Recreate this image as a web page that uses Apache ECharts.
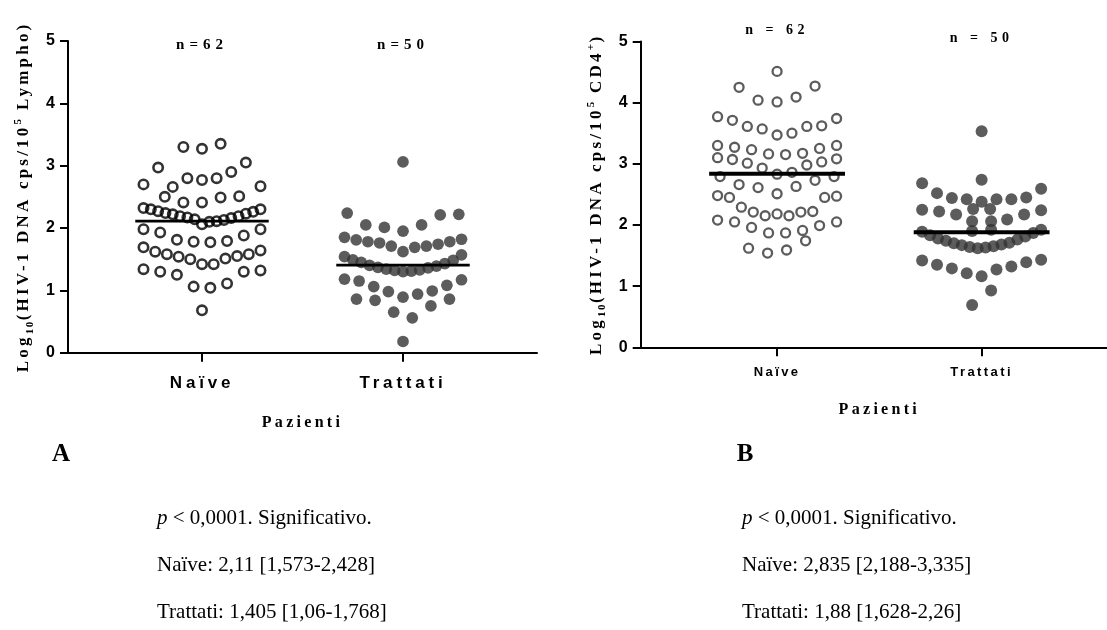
<!DOCTYPE html>
<html>
<head>
<meta charset="utf-8">
<script src="https://cdn.jsdelivr.net/npm/echarts@6/dist/echarts.min.js"></script>
<style>
  html, body { margin: 0; padding: 0; background: #ffffff; }
  #chart { width: 1107px; height: 630px; }
</style>
</head>
<body>
<div id="chart"></div>
<script>
// ---- data -----------------------------------------------------------------
const groupNames = ['Naïve', 'Trattati'];
const yTicks = [0, 1, 2, 3, 4, 5];

// Panel A: log10 HIV-1 DNA copies / 10^5 lymphocytes.
// Each inner array is one band of the dot plot, values listed left to right.
const lymphoNaive = [
  [0.68],
  [1.34, 1.30, 1.25, 1.06, 1.04, 1.11, 1.30, 1.32],
  [1.69, 1.62, 1.58, 1.54, 1.50, 1.42, 1.42, 1.51, 1.55, 1.58, 1.64],
  [1.98, 1.93, 1.81, 1.78, 1.77, 1.79, 1.88, 1.98],
  [2.32, 2.30, 2.27, 2.24, 2.22, 2.19, 2.17, 2.14, 2.06, 2.10, 2.11, 2.13, 2.16, 2.19, 2.23, 2.26, 2.30],
  [2.50, 2.41, 2.41, 2.49, 2.51],
  [2.70, 2.97, 2.66, 2.80, 2.77, 2.80, 2.90, 3.05, 2.67],
  [3.30, 3.27, 3.35]
];
const lymphoTreated = [
  [0.18],
  [0.86, 0.84, 0.65, 0.56, 0.75, 0.86],
  [1.18, 1.15, 1.06, 0.98, 0.89, 0.94, 0.99, 1.08, 1.17],
  [1.54, 1.49, 1.45, 1.40, 1.37, 1.34, 1.32, 1.30, 1.31, 1.33, 1.36, 1.39, 1.43, 1.48, 1.57],
  [1.85, 1.81, 1.78, 1.76, 1.71, 1.62, 1.69, 1.71, 1.74, 1.78, 1.82],
  [2.24, 2.05, 2.01, 1.95, 2.05, 2.21, 2.22],
  [3.06]
];
const lymphoMedians = [2.11, 1.405];

// Panel B: log10 HIV-1 DNA copies / 10^5 CD4+ cells.
const cd4Naive = [
  [1.62, 1.54, 1.59, 1.74],
  [2.08, 2.05, 1.96, 1.87, 1.87, 1.91, 1.99, 2.05],
  [2.48, 2.45, 2.29, 2.21, 2.15, 2.18, 2.15, 2.21, 2.22, 2.45, 2.47],
  [2.79, 2.66, 2.61, 2.51, 2.63, 2.73, 2.79],
  [3.10, 3.07, 3.01, 2.93, 2.83, 2.86, 2.98, 3.03, 3.08],
  [3.30, 3.27, 3.23, 3.16, 3.15, 3.17, 3.25, 3.30],
  [3.77, 3.71, 3.61, 3.57, 3.47, 3.50, 3.61, 3.62, 3.74],
  [4.25, 4.04, 4.01, 4.09, 4.27],
  [4.51]
];
const cd4Treated = [
  [0.69, 0.93],
  [1.42, 1.35, 1.29, 1.21, 1.16, 1.27, 1.32, 1.39, 1.43],
  [1.89, 1.83, 1.78, 1.74, 1.70, 1.67, 1.64, 1.62, 1.63, 1.65, 1.68, 1.71, 1.76, 1.81, 1.87, 1.92],
  [1.90, 1.92],
  [2.06, 2.06],
  [2.25, 2.22, 2.17, 2.26, 2.26, 2.09, 2.17, 2.24],
  [2.68, 2.52, 2.44, 2.42, 2.38, 2.42, 2.42, 2.45, 2.59],
  [2.74],
  [3.53]
];
const cd4Medians = [2.835, 1.88];

const countLabelsA = ['n=62', 'n=50'];
const countLabelsB = ['n = 62', 'n = 50'];
const summaryA = [
  ['p', ' < 0,0001. Significativo.'],
  ['', 'Naïve: 2,11 [1,573-2,428]'],
  ['', 'Trattati: 1,405 [1,06-1,768]']
];
const summaryB = [
  ['p', ' < 0,0001. Significativo.'],
  ['', 'Naïve: 2,835 [2,188-3,335]'],
  ['', 'Trattati: 1,88 [1,628-2,26]']
];

// ---- letter spacing support for canvas text --------------------------------
// A family token "spN" in a font stack requests N tenths of a px of tracking.
(function () {
  const proto = CanvasRenderingContext2D.prototype;
  if (!('letterSpacing' in proto)) return;
  const spacing = (font) => {
    const m = /\bsp(\d+)\b/.exec(font || '');
    return m ? (parseInt(m[1], 10) / 10) + 'px' : '0px';
  };
  ['fillText', 'strokeText', 'measureText'].forEach((fn) => {
    const orig = proto[fn];
    proto[fn] = function () {
      const ls = spacing(this.font);
      if (this.letterSpacing !== ls) this.letterSpacing = ls;
      return orig.apply(this, arguments);
    };
  });
})();

const SERIF = '"Liberation Serif", "Times New Roman", serif';
const SANS = '"Liberation Sans", Arial, sans-serif';
const tracked = (family, px) => family + ', sp' + Math.round(px * 10);

// ---- layout ---------------------------------------------------------------
const X_MIN = 1 / 3, X_MAX = 8 / 3;
const panels = [
  { left: 68, top: 41, width: 469, height: 311.7, step: 18.6, maxW: 117, nameGap: 32 },
  { left: 640.7, top: 41.4, width: 477.3, height: 305.9, step: 19, maxW: 119, nameGap: 32 }
];
const pxPerUnit = (p) => p.width / (X_MAX - X_MIN);
const catPx = (p, c) => p.left + (c - X_MIN) * pxPerUnit(p);

// Spread each band horizontally around its group centre.
function swarm(rows, center, panel) {
  const pts = [];
  rows.forEach((row) => {
    const n = row.length;
    const gap = n > 1 ? Math.min(panel.step, panel.maxW / (n - 1)) : 0;
    row.forEach((v, i) => {
      const dx = (i - (n - 1) / 2) * gap;
      pts.push([center + dx / pxPerUnit(panel), v]);
    });
  });
  return pts;
}

const HALF_BAR = 0.332;
function medianLine(c, m) {
  return [[c - HALF_BAR, m], [c + HALF_BAR, m]];
}

const yTitleA = '{m|Log}{s|10}{m|(HIV-1 DNA cps/10}{p|5}{m| Lympho)}';
const yTitleB = '{m|Log}{s|10}{m|(HIV-1 DNA cps/10}{p|5}{m| CD4}{p|+}{m|)}';
const titleRich = {
  m: { fontFamily: tracked(SERIF, 3.2), fontWeight: 'bold', fontSize: 17, color: '#000', lineHeight: 24 },
  s: { fontFamily: tracked(SERIF, 1.5), fontWeight: 'bold', fontSize: 11, color: '#000', lineHeight: 12, verticalAlign: 'bottom' },
  p: { fontFamily: tracked(SERIF, 1.5), fontWeight: 'bold', fontSize: 11, color: '#000', lineHeight: 12, verticalAlign: 'top' }
};

function makeXAxis(gridIndex, fontSize, spacing, margin) {
  return {
    type: 'value', gridIndex, min: X_MIN, max: X_MAX,
    axisLine: { show: true, onZero: false, lineStyle: { color: '#000', width: 2 } },
    axisTick: { show: true, customValues: [1, 2], length: 9, lineStyle: { color: '#000', width: 2 } },
    axisLabel: {
      show: true, customValues: [1, 2], margin,
      formatter: (v) => groupNames[Math.round(v) - 1],
      fontFamily: tracked(SANS, spacing), fontWeight: 'bold', fontSize, color: '#000'
    },
    splitLine: { show: false }
  };
}

function makeYAxis(gridIndex, panel, title) {
  return {
    type: 'value', gridIndex, min: yTicks[0], max: yTicks[yTicks.length - 1], interval: 1,
    axisLine: { show: true, lineStyle: { color: '#000', width: 2 } },
    axisTick: { show: true, length: 8, lineStyle: { color: '#000', width: 2 } },
    axisLabel: { margin: 13, fontFamily: SANS, fontWeight: 'bold', fontSize: 16, color: '#000' },
    splitLine: { show: false },
    name: title, nameLocation: 'middle', nameRotate: 90, nameGap: panel.nameGap,
    nameTextStyle: { rich: titleRich }
  };
}

const openBlack = { color: 'rgba(0,0,0,0)', borderColor: '#000', borderWidth: 2.6 };
const openGrey = { color: 'rgba(0,0,0,0)', borderColor: '#333', borderWidth: 2.3 };
const filledGrey = { color: '#333', borderWidth: 0 };

const pA = panels[0], pB = panels[1];

function text(x, y, str, family, size, weight, align) {
  return {
    type: 'text', x, y, silent: true,
    style: { text: str, fontFamily: family, fontSize: size, fontWeight: weight || 'normal',
             fill: '#000', align: align || 'center', verticalAlign: 'middle' }
  };
}
function summary(x, y0, rows) {
  return rows.map((r, i) => ({
    type: 'text', x, y: y0 + i * 47, silent: true,
    style: {
      text: (r[0] ? '{i|' + r[0] + '}' : '') + '{r|' + r[1] + '}',
      align: 'left', verticalAlign: 'middle',
      rich: {
        i: { fontFamily: SERIF, fontStyle: 'italic', fontSize: 21, fill: '#000' },
        r: { fontFamily: SERIF, fontSize: 21, fill: '#000' }
      }
    }
  }));
}

const chart = echarts.init(document.getElementById('chart'), null, { renderer: 'canvas' });
chart.setOption({
  animation: false,
  backgroundColor: '#ffffff',
  grid: panels.map((p) => ({ left: p.left, top: p.top, width: p.width, height: p.height, outerBoundsMode: 'none', containLabel: false })),
  xAxis: [makeXAxis(0, 17, 3.8, 20), makeXAxis(1, 13, 2.4, 17)],
  yAxis: [makeYAxis(0, pA, yTitleA), makeYAxis(1, pB, yTitleB)],
  series: [
    { type: 'scatter', xAxisIndex: 0, yAxisIndex: 0, symbol: 'circle', symbolSize: 9.4, itemStyle: openBlack, silent: true,
      data: swarm(lymphoNaive, 1, pA) },
    { type: 'scatter', xAxisIndex: 0, yAxisIndex: 0, symbol: 'circle', symbolSize: 11.7, itemStyle: filledGrey, silent: true,
      data: swarm(lymphoTreated, 2, pA) },
    { type: 'scatter', xAxisIndex: 1, yAxisIndex: 1, symbol: 'circle', symbolSize: 9, itemStyle: openGrey, silent: true,
      data: swarm(cd4Naive, 1, pB) },
    { type: 'scatter', xAxisIndex: 1, yAxisIndex: 1, symbol: 'circle', symbolSize: 12, itemStyle: filledGrey, silent: true,
      data: swarm(cd4Treated, 2, pB) },
    ...lymphoMedians.map((m, i) => ({
      type: 'line', xAxisIndex: 0, yAxisIndex: 0, symbol: 'none', silent: true, z: 5,
      lineStyle: { color: '#000', width: 2.7 }, data: medianLine(i + 1, m)
    })),
    ...cd4Medians.map((m, i) => ({
      type: 'line', xAxisIndex: 1, yAxisIndex: 1, symbol: 'none', silent: true, z: 5,
      lineStyle: { color: '#000', width: 4 }, data: medianLine(i + 1, m)
    }))
  ],
  graphic: [
    text(catPx(pA, 1), 45, countLabelsA[0], tracked(SERIF, 5), 15, 'bold'),
    text(catPx(pA, 2), 45, countLabelsA[1], tracked(SERIF, 5), 15, 'bold'),
    text(catPx(pB, 1), 30, countLabelsB[0], tracked(SERIF, 4.5), 14, 'bold'),
    text(catPx(pB, 2), 38, countLabelsB[1], tracked(SERIF, 4.5), 14, 'bold'),
    text(pA.left + pA.width / 2, 423, 'Pazienti', tracked(SERIF, 3.3), 16, 'bold'),
    text(pB.left + pB.width / 2, 410, 'Pazienti', tracked(SERIF, 3.3), 16, 'bold'),
    text(61, 455, 'A', SERIF, 25, 'bold'),
    text(745, 455, 'B', SERIF, 25, 'bold'),
    ...summary(157, 518, summaryA),
    ...summary(742, 518, summaryB)
  ]
});
</script>
</body>
</html>
